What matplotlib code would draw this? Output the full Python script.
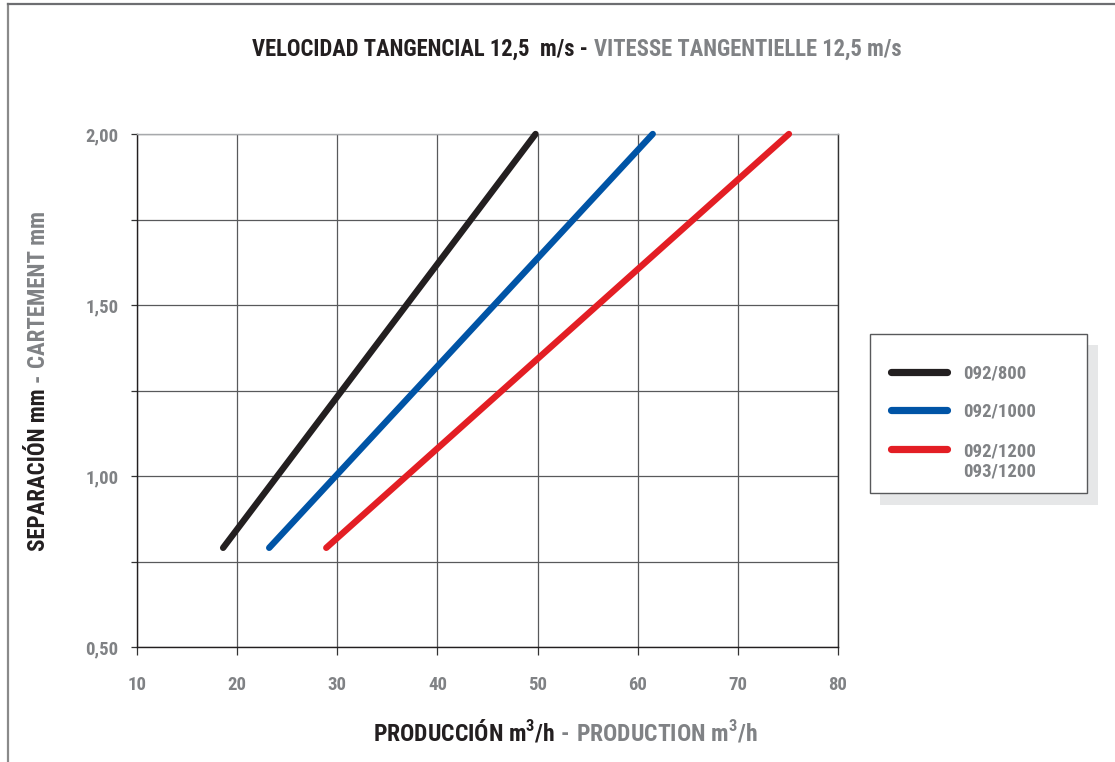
import matplotlib
matplotlib.use("Agg")
import matplotlib.pyplot as plt
from matplotlib import font_manager
from matplotlib.patches import Rectangle
from matplotlib.lines import Line2D

# ---------------- data ----------------
series_names = ["092/800", "092/1000", "092/1200\n093/1200"]
series_colors = ["#231f20", "#0054a6", "#e31e24"]
prod_092_800 = [18.6, 49.8]
prod_092_1000 = [23.2, 61.5]
prod_092_1200 = [28.9, 75.1]
separation = [0.79, 2.00]
x_ticks = [10, 20, 30, 40, 50, 60, 70, 80]
y_ticks = [0.50, 1.00, 1.50, 2.00]
y_minor = [0.75, 1.25, 1.75]
y_tick_labels = ["0,50", "1,00", "1,50", "2,00"]

# ---------------- fonts (prefer a condensed face) ----------------
entries = font_manager.fontManager.ttflist
famset = {f.name for f in entries}
COND = {"condensed", "semi-condensed", "extra-condensed", "ultra-condensed"}
FONT, STRETCH = None, "normal"
for n in ["Liberation Sans Narrow", "Roboto Condensed", "Open Sans Condensed",
          "Noto Sans Condensed", "DejaVu Sans Condensed", "Arial Narrow"]:
    if n in famset:
        FONT = n
        break
if FONT is None:
    for fam in ["DejaVu Sans", "Noto Sans", "Open Sans", "Roboto", "Liberation Sans"]:
        if any(f.name == fam and str(f.stretch) in COND for f in entries):
            FONT, STRETCH = fam, "condensed"
            break
if FONT is None:
    FONT = "Roboto" if "Roboto" in famset else "Liberation Sans"

plt.rcParams["font.family"] = [FONT, "DejaVu Sans"]
plt.rcParams["font.stretch"] = STRETCH
plt.rcParams["mathtext.fontset"] = "custom"
plt.rcParams["mathtext.rm"] = f"{FONT}:stretch={STRETCH}"
plt.rcParams["mathtext.bf"] = f"{FONT}:bold:stretch={STRETCH}"

BLACK = "#231f20"
GRAY = "#808285"

W, H = 1115, 762
fig = plt.figure(figsize=(W / 100, H / 100), dpi=100)
renderer = fig.canvas.get_renderer()

def fx(px):
    return px / W

def fy(py):  # py measured from top
    return 1 - py / H

# ---------------- axes ----------------
ax = fig.add_axes([fx(137), fy(647), (838 - 137) / W, (647 - 134) / H])
ax.set_xlim(10, 80)
ax.set_ylim(0.5, 2.0)

for xs, c in zip([prod_092_800, prod_092_1000, prod_092_1200], series_colors):
    ax.plot(xs, separation, color=c, lw=4.6, solid_capstyle="round", clip_on=False, zorder=5)

ax.set_xticks(x_ticks)
ax.set_xticklabels([str(v) for v in x_ticks])
ax.set_yticks(y_ticks)
ax.set_yticklabels(y_tick_labels)
ax.set_yticks(y_minor, minor=True)
ax.tick_params(axis="x", which="both", length=6, width=0.9, color="#333333", pad=15,
               labelsize=13.5, labelcolor=GRAY)
ax.tick_params(axis="y", which="both", length=4.5, width=0.9, color="#333333", pad=9,
               labelsize=13.5, labelcolor=GRAY)
for lab in ax.get_xticklabels() + ax.get_yticklabels():
    lab.set_fontweight("bold")
ax.grid(True, which="both", color="#58595b", lw=0.9)
ax.set_axisbelow(True)
ax.spines["left"].set_color("#231f20")
ax.spines["bottom"].set_color("#231f20")
ax.spines["right"].set_color("#333333")
ax.spines["top"].set_color("#a7a9ac")
for s in ax.spines.values():
    s.set_linewidth(1.0)

# ---------------- figure frame ----------------
fig.add_artist(Line2D([fx(8), fx(8)], [fy(4), 0], color="#8a8a8a", lw=1.6,
                      transform=fig.transFigure))
fig.add_artist(Line2D([fx(8), 1], [fy(4), fy(4)], color="#6d6e71", lw=1.6,
                      transform=fig.transFigure))

# ---------------- two-tone text helper ----------------
def two_tone(parts, size, x=None, y=None, rotation=0, gap=6):
    texts = []
    for s, c in parts:
        if rotation == 0:
            t = fig.text(0, 0, s, color=c, fontsize=size, fontweight="bold",
                         ha="left", va="baseline")
        else:
            t = fig.text(0, 0, s, color=c, fontsize=size, fontweight="bold",
                         ha="left", va="baseline", rotation=90, rotation_mode="anchor")
        texts.append(t)
    if rotation == 0:
        ws = [t.get_window_extent(renderer).width for t in texts]
        total = sum(ws) + gap * (len(ws) - 1)
        cur = x - total / 2
        for t, w in zip(texts, ws):
            t.set_position((fx(cur), fy(y)))
            cur += w + gap
    else:
        hs = [t.get_window_extent(renderer).height for t in texts]
        total = sum(hs) + gap * (len(hs) - 1)
        cur = y + total / 2
        for t, h in zip(texts, hs):
            t.set_position((fx(x), fy(cur)))
            cur -= h + gap

two_tone([("VELOCIDAD TANGENCIAL 12,5  m/s -", BLACK),
          ("VITESSE TANGENTIELLE 12,5 m/s", GRAY)], 16.3, x=577, y=56)
two_tone([(r"PRODUCCIÓN m$^{\mathbf{3}}$/h", BLACK), ("-", GRAY),
          (r"PRODUCTION m$^{\mathbf{3}}$/h", GRAY)], 17, x=565, y=741)
two_tone([("SEPARACIÓN mm", BLACK), ("-", GRAY), ("CARTEMENT mm", GRAY)],
         16.5, x=45, y=381, rotation=90)

# ---------------- legend (manual, with shadow) ----------------
fig.add_artist(Rectangle((fx(880), fy(505)), (1098 - 880) / W, (505 - 345) / H,
                         transform=fig.transFigure, facecolor="#e6e7e8", edgecolor="none"))
fig.add_artist(Rectangle((fx(870), fy(493)), (1087 - 870) / W, (493 - 334) / H,
                         transform=fig.transFigure, facecolor="white", edgecolor="#58595b", lw=1.0))
leg_y = [372, 410, 449]
for name, c, ly in zip(series_names, series_colors, leg_y):
    fig.add_artist(Line2D([fx(891), fx(947)], [fy(ly), fy(ly)], color=c, lw=5.2,
                          solid_capstyle="round", transform=fig.transFigure))
    for i, ln in enumerate(name.split("\n")):
        fig.text(fx(963), fy(ly + i * 21), ln, color=GRAY, fontsize=13.5, fontweight="bold",
                 ha="left", va="center_baseline")

fig.savefig("out.png", dpi=100)
